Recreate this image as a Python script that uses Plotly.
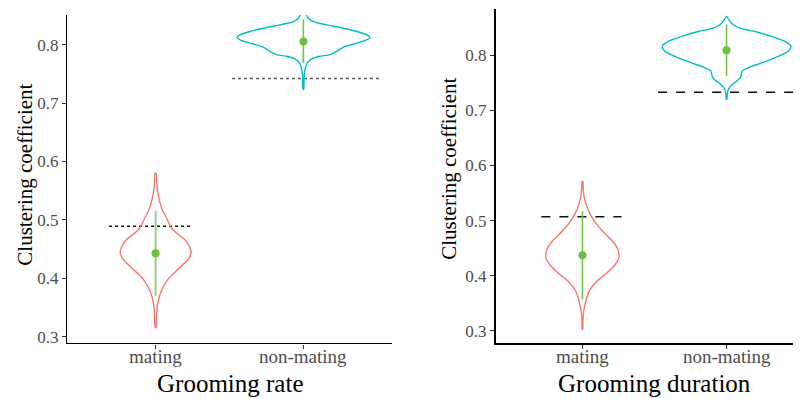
import plotly.graph_objects as go

# ---------------- data ----------------
categories = ["mating", "non-mating"]
panel_titles = ["Grooming rate", "Grooming duration"]
y_title = "Clustering coefficient"
y_ticks = [0.3, 0.4, 0.5, 0.6, 0.7, 0.8]

# violin outlines: (value levels, half-width in category units)
rate_mating_y = [0.5798, 0.5657, 0.5543, 0.5430, 0.5317, 0.5175, 0.5034, 0.4864, 0.4750, 0.4666,
                 0.4553, 0.4440, 0.4326, 0.4213, 0.4100, 0.3987, 0.3845, 0.3704, 0.3562, 0.3392, 0.3160]
rate_mating_w = [0.004, 0.007, 0.011, 0.018, 0.027, 0.045, 0.073, 0.107, 0.152, 0.197,
                 0.227, 0.240, 0.220, 0.175, 0.129, 0.084, 0.050, 0.027, 0.014, 0.007, 0.003]

rate_nonmating_y = [0.8527, 0.8515, 0.8453, 0.8396, 0.8340, 0.8283, 0.8226, 0.8170, 0.8124, 0.8074,
                    0.8028, 0.7960, 0.7887, 0.7830, 0.7802, 0.7757, 0.7689, 0.7576, 0.7462, 0.7236]
rate_nonmating_w = [0.004, 0.018, 0.034, 0.068, 0.159, 0.272, 0.363, 0.431, 0.450, 0.420,
                    0.363, 0.272, 0.227, 0.181, 0.113, 0.057, 0.027, 0.011, 0.005, 0.002]

dur_mating_y = [0.5708, 0.5577, 0.5427, 0.5276, 0.5126, 0.4977, 0.4796, 0.4616, 0.4465, 0.4315,
                0.4195, 0.4045, 0.3895, 0.3715, 0.3535, 0.3355, 0.3175, 0.3030]
dur_mating_w = [0.003, 0.005, 0.012, 0.028, 0.051, 0.086, 0.144, 0.213, 0.248, 0.252,
                0.225, 0.167, 0.097, 0.046, 0.023, 0.009, 0.003, 0.002]

dur_nonmating_y = [0.8703, 0.8643, 0.8553, 0.8494, 0.8432, 0.8342, 0.8252, 0.8162, 0.8072, 0.7982,
                   0.7862, 0.7773, 0.7712, 0.7622, 0.7550, 0.7472, 0.7382, 0.7292, 0.7202]
dur_nonmating_w = [0.003, 0.016, 0.046, 0.090, 0.197, 0.3125, 0.405, 0.447, 0.428, 0.359,
                   0.243, 0.150, 0.109, 0.100, 0.081, 0.039, 0.012, 0.005, 0.002]

# summary: mean and lower/upper
rate_mean = [0.4428, 0.8057]
rate_low = [0.3704, 0.7689]
rate_high = [0.5158, 0.8436]
dur_mean = [0.4370, 0.8090]
dur_low = [0.3564, 0.7622]
dur_high = [0.5168, 0.8553]

# horizontal reference lines: value, x start / end offsets around category
rate_ref = [0.4893, 0.7423]
rate_ref_x0 = [-0.315, -0.483]
rate_ref_x1 = [0.245, 0.515]
dur_ref = [0.5072, 0.7328]
dur_ref_x0 = [-0.285, -0.475]
dur_ref_x1 = [0.271, 0.52]

# ---------------- figure ----------------
# page body has an 8px margin: the figure is offset by (8, 8) in the window
OFF = 8
W, H = 801 - OFF, 399 - OFF
violin_colors = ["#F8766D", "#00BFC4"]
green = "#6CBF3F"
green_line = ["#95D47E", "#74C44A"]

fig = go.Figure()

def add_violin(ys, ws, center, color, xa, ya):
    xs = [center + w for w in ws] + [center - w for w in reversed(ws)] + [center + ws[0]]
    yy = list(ys) + list(reversed(ys)) + [ys[0]]
    fig.add_trace(go.Scatter(x=xs, y=yy, mode="lines", line=dict(color=color, width=1.4, shape="spline", smoothing=0.8),
                             xaxis=xa, yaxis=ya, hoverinfo="skip", showlegend=False))

panels = [
    ([(rate_mating_y, rate_mating_w), (rate_nonmating_y, rate_nonmating_w)], rate_mean, rate_low, rate_high,
     rate_ref, rate_ref_x0, rate_ref_x1, "dot", "x", "y"),
    ([(dur_mating_y, dur_mating_w), (dur_nonmating_y, dur_nonmating_w)], dur_mean, dur_low, dur_high,
     dur_ref, dur_ref_x0, dur_ref_x1, "dash", "x2", "y2"),
]
ref_colors = [["#111111", "#555555"], ["#111111", "#111111"]]

for p, (viol, mean, low, high, ref, rx0, rx1, dash, xa, ya) in enumerate(panels):
    for i, (ys, ws) in enumerate(viol):
        c = i + 1
        fig.add_trace(go.Scatter(x=[c + rx0[i], c + rx1[i]], y=[ref[i], ref[i]], mode="lines",
                                 line=dict(color=ref_colors[p][i], width=1.5, dash=dash),
                                 xaxis=xa, yaxis=ya, hoverinfo="skip", showlegend=False))
        add_violin(ys, ws, c, violin_colors[i], xa, ya)
        fig.add_trace(go.Scatter(x=[c, c], y=[low[i], high[i]], mode="lines",
                                 line=dict(color=green_line[0] if (p == 0 and i == 0) else green_line[1],
                                           width=2.0 if (p == 0 and i == 0) else 1.6),
                                 xaxis=xa, yaxis=ya, hoverinfo="skip", showlegend=False))
        fig.add_trace(go.Scatter(x=[c], y=[mean[i]], mode="markers",
                                 marker=dict(color=green, size=8),
                                 xaxis=xa, yaxis=ya, hoverinfo="skip", showlegend=False))

font_family = "Liberation Serif, Times New Roman, serif"
tickfont_y = dict(family=font_family, size=17, color="#4D4D4D")
tickfont_x = dict(family=font_family, size=19, color="#4D4D4D")

def px(v):
    return (v - OFF) / W

def py(v):
    return 1 - (v - OFF) / H

common_x = dict(tickvals=[1, 2], showticklabels=False, showgrid=False, zeroline=False, showline=True,
                linecolor="black", ticks="outside", ticklen=4, tickcolor="#333333")
common_y = dict(tickvals=y_ticks, ticktext=[f"{t:.1f}" for t in y_ticks], showgrid=False, zeroline=False,
                showline=True, linecolor="black", ticks="outside", ticklen=4, tickcolor="#333333",
                tickfont=tickfont_y)

fig.update_layout(
    width=W, height=H, margin=dict(l=0, r=0, t=0, b=0),
    paper_bgcolor="white", plot_bgcolor="white",
    xaxis=dict(domain=[px(67), px(392)], range=[0.4, 2.6], linewidth=1.3, anchor="y", **common_x),
    yaxis=dict(domain=[py(346), py(15)], range=[0.2886, 0.851], linewidth=1.3, anchor="x", **common_y),
    xaxis2=dict(domain=[px(496), 1.0], range=[0.4, 2.6 - 12 / 144], linewidth=2.4, anchor="y2", **common_x),
    yaxis2=dict(domain=[py(345.7), py(9)], range=[0.2777, 0.884], linewidth=2.4, anchor="x2", **common_y),
)

title_font_x = dict(family=font_family, size=25, color="black")
title_font_y = dict(family=font_family, size=21, color="black")
ann = [
    dict(text=panel_titles[0], x=px(229.5), y=py(386), xref="paper", yref="paper", showarrow=False,
         font=title_font_x, xanchor="center", yanchor="middle"),
    dict(text=panel_titles[1], x=px(654.5), y=py(386), xref="paper", yref="paper", showarrow=False,
         font=title_font_x, xanchor="center", yanchor="middle"),
    dict(text=y_title, x=px(25), y=py(176), xref="paper", yref="paper", showarrow=False,
         font=title_font_y, textangle=-90, xanchor="center", yanchor="middle"),
    dict(text=y_title, x=px(449), y=py(170), xref="paper", yref="paper", showarrow=False,
         font=title_font_y, textangle=-90, xanchor="center", yanchor="middle"),
]
# category tick labels placed at their category positions on each x axis
for xref in ["x", "x2"]:
    for i, cat in enumerate(categories):
        ann.append(dict(text=cat, x=i + 1, y=py(359), xref=xref, yref="paper", showarrow=False,
                        font=tickfont_x, xanchor="center", yanchor="middle"))
fig.update_layout(annotations=ann)

fig.write_html("out.html")
